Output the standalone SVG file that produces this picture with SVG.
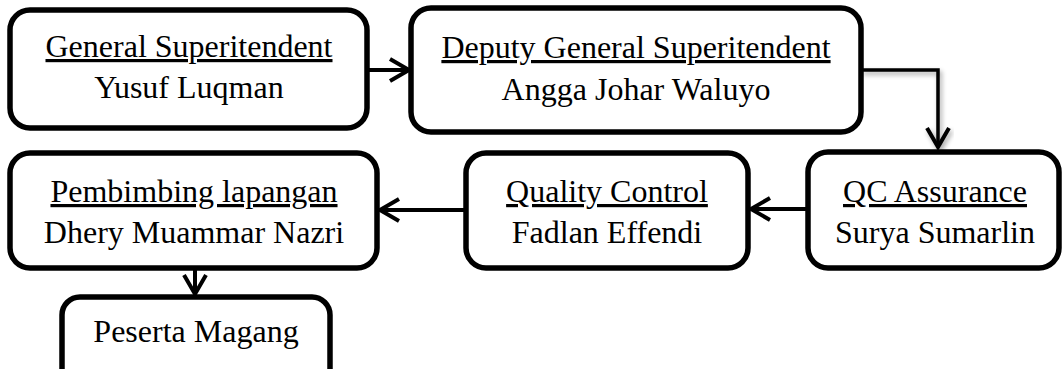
<svg xmlns="http://www.w3.org/2000/svg" width="1063" height="369" viewBox="0 0 1063 369">
  <defs>
    <style>
      .box { fill: #ffffff; stroke: #000000; stroke-width: 5.5; }
      .t { font-family: "Liberation Serif", "Times New Roman", serif; font-size: 32px; fill: #000000; text-anchor: middle; }
      .u { text-decoration: underline; }
      .conn { fill: none; stroke: #000000; stroke-width: 4; }
      .conn2 { fill: none; stroke: #000000; stroke-width: 3.5; }
    </style>
    <marker id="arr" viewBox="-24 -14 28 28" markerWidth="28" markerHeight="28" refX="0" refY="0" orient="auto" markerUnits="userSpaceOnUse">
      <path d="M-19,-11 L0,0 L-19,11" fill="none" stroke="#000" stroke-width="4" stroke-linejoin="miter"/>
    </marker>
    <filter id="sh" x="-20%" y="-20%" width="140%" height="140%">
      <feGaussianBlur in="SourceAlpha" stdDeviation="2.5"/>
      <feOffset dx="2" dy="3" result="b"/>
      <feComponentTransfer><feFuncA type="linear" slope="0.35"/></feComponentTransfer>
      <feMerge><feMergeNode/><feMergeNode in="SourceGraphic"/></feMerge>
    </filter>
  </defs>
  <rect width="1063" height="369" fill="#ffffff"/>

  <g id="connectors">
    <line class="conn" x1="367" y1="70" x2="409" y2="70" marker-end="url(#arr)"/>
    <path class="conn2" d="M861,70 H938 V147" marker-end="url(#arr)" filter="url(#sh)"/>
    <line class="conn" x1="808" y1="209" x2="751" y2="209" marker-end="url(#arr)"/>
    <line class="conn" x1="466" y1="210" x2="380" y2="210" marker-end="url(#arr)"/>
    <line class="conn" x1="195" y1="268" x2="195" y2="294" marker-end="url(#arr)"/>
  </g>

  <g id="node-general">
    <rect class="box" x="10" y="10" width="357" height="118" rx="20" ry="20"/>
    <text class="t u" x="189" y="57">General Superitendent</text>
    <text class="t" x="189" y="98">Yusuf Luqman</text>
  </g>

  <g id="node-deputy">
    <rect class="box" x="411" y="8" width="450" height="124" rx="20" ry="20"/>
    <text class="t u" x="636" y="58">Deputy General Superitendent</text>
    <text class="t" x="636" y="100">Angga Johar Waluyo</text>
  </g>

  <g id="node-qca">
    <rect class="box" x="808" y="152" width="251" height="116" rx="20" ry="20"/>
    <text class="t u" x="935" y="202">QC Assurance</text>
    <text class="t" x="935" y="243">Surya Sumarlin</text>
  </g>

  <g id="node-qc">
    <rect class="box" x="466" y="153" width="282" height="115" rx="20" ry="20"/>
    <text class="t u" x="607" y="202">Quality Control</text>
    <text class="t" x="607" y="243">Fadlan Effendi</text>
  </g>

  <g id="node-pembimbing">
    <rect class="box" x="10" y="153" width="367" height="115" rx="20" ry="20"/>
    <text class="t u" x="194" y="202">Pembimbing lapangan</text>
    <text class="t" x="194" y="243">Dhery Muammar Nazri</text>
  </g>

  <g id="node-peserta">
    <rect class="box" x="62" y="297" width="268" height="100" rx="18" ry="18"/>
    <text class="t" x="196" y="342">Peserta Magang</text>
  </g>
</svg>
